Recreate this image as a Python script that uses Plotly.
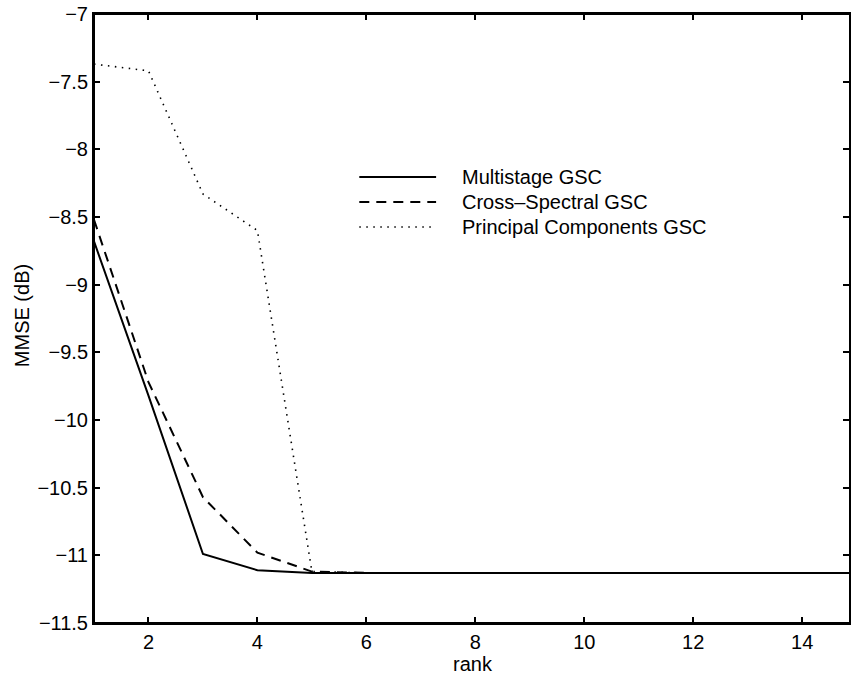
import plotly.graph_objects as go

rank = list(range(1, 16))
multistage = [-8.68, -9.82, -10.99, -11.11, -11.13, -11.13, -11.13, -11.13, -11.13, -11.13, -11.13, -11.13, -11.13, -11.13, -11.13]
cross_spectral = [-8.52, -9.72, -10.57, -10.98, -11.12, -11.13, -11.13, -11.13, -11.13, -11.13, -11.13, -11.13, -11.13, -11.13, -11.13]
principal = [-7.37, -7.42, -8.33, -8.60, -11.12, -11.13, -11.13, -11.13, -11.13, -11.13, -11.13, -11.13, -11.13, -11.13, -11.13]

x_ticks = [2, 4, 6, 8, 10, 12, 14]
y_ticks = [-11.5, -11, -10.5, -10, -9.5, -9, -8.5, -8, -7.5, -7]
y_ticktext = ["\u221211.5", "\u221211", "\u221210.5", "\u221210", "\u22129.5", "\u22129",
              "\u22128.5", "\u22128", "\u22127.5", "\u22127"]

names = ["Multistage GSC", "Cross\u2013Spectral GSC", "Principal Components GSC"]
dashes = ["solid", "10px,7px", "1.5px,5.5px"]
widths = [2, 2, 1.6]
series = [multistage, cross_spectral, principal]

FONT = "Liberation Sans, Arial, Helvetica, sans-serif"

fig = go.Figure()
for s, n, d, w in zip(series, names, dashes, widths):
    fig.add_trace(go.Scatter(x=rank, y=s, mode="lines", name=n,
                             line=dict(color="black", width=w, dash=d),
                             showlegend=False, hoverinfo="skip"))

W, H = 851, 677
ml, mr, mt, mb = 94, 0, 14, 54
pw, ph = W - ml - mr, H - mt - mb
def px_to_paper(xp, yp):
    return (xp - ml) / pw, 1 - (yp - mt) / ph

# manual legend
leg_rows = [177, 202, 227]
for n, d, w, yp in zip(names, dashes, widths, leg_rows):
    x0, y0 = px_to_paper(360, yp)
    x1, _ = px_to_paper(437, yp)
    fig.add_shape(type="line", xref="paper", yref="paper", x0=x0, x1=x1, y0=y0, y1=y0,
                  line=dict(color="black", width=w, dash=d))
    xt, _ = px_to_paper(461, yp)
    fig.add_annotation(xref="paper", yref="paper", x=xt, y=y0, text=n, showarrow=False,
                       xanchor="left", yanchor="middle", font=dict(family=FONT, size=20, color="black"))

# axis titles
fig.add_annotation(xref="paper", yref="paper", x=px_to_paper(474, 0)[0], y=px_to_paper(0, 664)[1],
                   text="rank", showarrow=False, xanchor="center", yanchor="middle",
                   font=dict(family=FONT, size=20, color="black"))
fig.add_annotation(xref="paper", yref="paper", x=px_to_paper(22, 0)[0], y=px_to_paper(0, 316)[1],
                   text="MMSE (dB)", showarrow=False, textangle=-90, xanchor="center", yanchor="middle",
                   font=dict(family=FONT, size=20, color="black"))

# frame lines (left, bottom, top)
for (x0, y0, x1, y1) in [(0, 0, 0, 1), (0, 0, 1, 0), (0, 1, 1, 1)]:
    fig.add_shape(type="line", xref="paper", yref="paper", x0=x0, y0=y0, x1=x1, y1=y1,
                  line=dict(color="black", width=2), layer="above")

axis_common = dict(showline=True, linecolor="black", linewidth=2, mirror="ticks",
                   ticks="inside", ticklen=6, tickwidth=1.5, tickcolor="black",
                   showgrid=False, zeroline=False,
                   tickfont=dict(family=FONT, size=20, color="black"))

fig.update_layout(
    width=W, height=H,
    margin=dict(l=ml, r=mr, t=mt, b=mb),
    paper_bgcolor="white", plot_bgcolor="white",
    xaxis=dict(range=[1, 14.86], tickvals=x_ticks, **axis_common),
    yaxis=dict(range=[-11.5, -7], tickvals=y_ticks, ticktext=y_ticktext, **axis_common),
)

fig.write_html("out.html", config={"displayModeBar": False},
               post_script="document.body.style.margin='0';document.body.style.padding='0';")
